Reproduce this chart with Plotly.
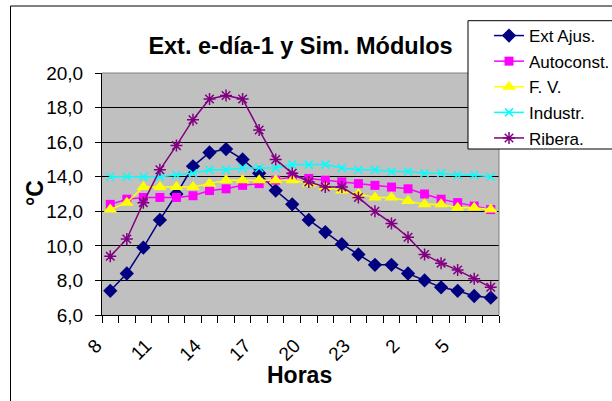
import plotly.graph_objects as go

hours = ["8", "9", "10", "11", "12", "13", "14", "15", "16", "17", "18", "19",
         "20", "21", "22", "23", "0", "1", "2", "3", "4", "5", "6", "7"]
x_tick_labels = ["8", "11", "14", "17", "20", "23", "2", "5"]

ext_ajus = [7.4, 8.4, 9.9, 11.5, 13.0, 14.6, 15.4, 15.6, 15.0, 14.2, 13.2, 12.4,
            11.5, 10.8, 10.1, 9.5, 8.9, 8.9, 8.4, 8.0, 7.6, 7.4, 7.1, 7.0]
autoconst = [12.4, 12.7, 12.8, 12.8, 12.8, 12.9, 13.2, 13.3, 13.5, 13.6, 13.8, 14.0,
             13.9, 13.8, 13.7, 13.6, 13.5, 13.4, 13.3, 13.0, 12.7, 12.5, 12.3, 12.1]
fv = [12.1, 12.5, 13.4, 13.4, 13.4, 13.4, 13.6, 13.8, 13.8, 13.8, 13.8, 13.8,
      13.6, 13.4, 13.2, 13.0, 12.8, 12.8, 12.6, 12.4, 12.4, 12.2, 12.2, 12.1]
industr = [14.0, 14.0, 14.0, 14.0, 14.1, 14.2, 14.4, 14.4, 14.5, 14.5, 14.5, 14.7,
           14.7, 14.7, 14.5, 14.4, 14.4, 14.3, 14.3, 14.2, 14.2, 14.1, 14.1, 14.0]
ribera = [9.4, 10.4, 12.5, 14.4, 15.8, 17.3, 18.5, 18.7, 18.5, 16.7, 15.0, 14.2,
          13.7, 13.4, 13.4, 12.8, 12.0, 11.3, 10.5, 9.5, 9.0, 8.6, 8.1, 7.6]

series_names = ["Ext Ajus.", "Autoconst.", "F. V.", "Industr.", "Ribera."]
series_values = [ext_ajus, autoconst, fv, industr, ribera]
series_colors = ["#000080", "#FF00FF", "#FFFF00", "#00FFFF", "#800080"]
series_symbols = ["diamond", "square", "triangle-up", "x-thin", "asterisk"]
series_sizes = [11, 9, 12, 8, 10]

FONT = "Liberation Sans, Arial, sans-serif"
W, H = 612, 401
ML, MR, MT, MB = 102, 113, 73, 86
PW, PH = W - ML - MR, H - MT - MB


def px_x(p):
    return (p - ML) / PW


def px_y(p):
    return (H - MB - p) / PH


fig = go.Figure()
for i, (name, vals, col, sym, sz) in enumerate(zip(series_names, series_values,
                                                   series_colors, series_symbols, series_sizes)):
    thin = sym in ("x-thin", "asterisk")
    fig.add_trace(go.Scatter(
        x=hours, y=vals, name=name, mode="lines+markers",
        legendgroup=f"g{i}",
        line=dict(color=col, width=1.5),
        marker=dict(symbol=sym, size=sz, color=col,
                    line=dict(color=col, width=1.5 if thin else 0)),
    ))

ticktext = [h if h in x_tick_labels else "" for h in hours]

fig.update_layout(
    width=W, height=H,
    margin=dict(l=ML, r=MR, t=MT, b=MB, autoexpand=False),
    paper_bgcolor="white",
    plot_bgcolor="#C0C0C0",
    separators=",.",
    font=dict(family=FONT, color="black"),
    title=dict(text="<b>Ext. e-día-1 y Sim. Módulos</b>", x=0.5, xref="paper",
               xanchor="center", y=1 - 46 / H, yref="container", yanchor="middle",
               font=dict(size=23.5, family=FONT, color="black")),
    showlegend=True,
    legend=dict(x=px_x(489), y=px_y(18), xanchor="left", yanchor="top",
                bgcolor="rgba(0,0,0,0)", borderwidth=0, tracegroupgap=0.5,
                font=dict(size=17, family=FONT, color="black")),
    xaxis=dict(type="category", categoryorder="array", categoryarray=hours,
               tickmode="array", tickvals=hours, ticktext=ticktext,
               tickson="boundaries", ticks="outside", ticklen=7, tickcolor="black",
               tickwidth=1, tickangle=-45, ticklabelshift=-14, ticklabelstandoff=11,
               tickfont=dict(size=19, family=FONT, color="black"),
               showgrid=False, showline=True, linecolor="black", linewidth=1,
               range=[-0.5, 23.5], zeroline=False),
    yaxis=dict(range=[6, 20], dtick=2, tick0=6, tickformat=".1f",
               ticks="outside", ticklen=6, tickcolor="black", tickwidth=1,
               ticklabelstandoff=8,
               tickfont=dict(size=19, family=FONT, color="black"),
               showgrid=True, gridcolor="black", gridwidth=1,
               showline=True, linecolor="black", linewidth=1, zeroline=False),
    shapes=[
        dict(type="line", xref="paper", yref="paper", x0=0, x1=1, y0=1, y1=1,
             line=dict(color="#808080", width=1), layer="above"),
        dict(type="line", xref="paper", yref="paper", x0=1, x1=1, y0=0, y1=1,
             line=dict(color="#808080", width=1), layer="above"),
        dict(type="rect", xref="paper", yref="paper",
             x0=px_x(468), x1=px_x(660), y0=px_y(149), y1=px_y(20.7),
             fillcolor="white", line=dict(color="black", width=1), layer="above"),
        dict(type="rect", xref="paper", yref="paper",
             x0=px_x(10.5), x1=px_x(700), y0=px_y(500), y1=px_y(6),
             fillcolor="rgba(0,0,0,0)", line=dict(color="black", width=1), layer="above"),
    ],
    annotations=[
        dict(text="<b>°C</b>", textangle=-90, xref="paper", yref="paper",
             x=px_x(35), y=px_y(193), xanchor="center", yanchor="middle",
             showarrow=False, font=dict(size=23, family=FONT, color="black")),
        dict(text="<b>Horas</b>", xref="paper", yref="paper",
             x=px_x(299), y=px_y(375), xanchor="center", yanchor="middle",
             showarrow=False, font=dict(size=23, family=FONT, color="black")),
    ],
)

fig.write_html("out.html")
